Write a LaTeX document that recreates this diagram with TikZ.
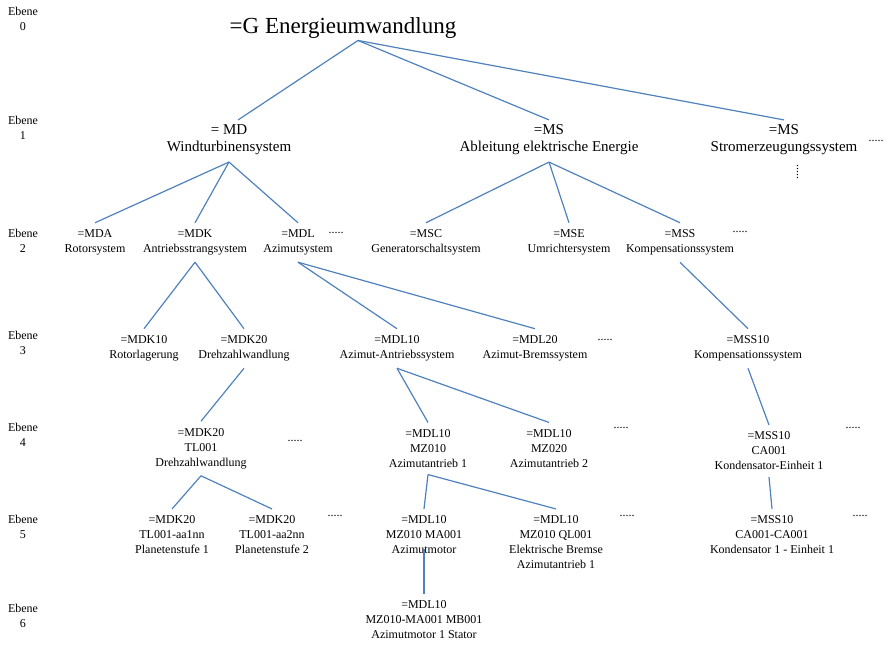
\documentclass[tikz,border=0pt]{standalone}
\usepackage{fontspec}
\setmainfont{Liberation Serif}
\usepackage{xcolor}
\definecolor{LinkBlue}{HTML}{4F81BD}

\begin{document}
\begin{tikzpicture}[x=1pt, y=-1pt,
      every node/.style={font=\fontsize{12}{15}\selectfont, align=center, inner sep=2pt, outer ysep=5pt},
      top/.style={font=\fontsize{23}{27}\selectfont, outer ysep=0pt},
      sys/.style={font=\fontsize{15}{17}\selectfont},
      more/.style={anchor=base, inner sep=0pt, outer sep=0pt},
      link/.style={draw=LinkBlue, line width=1.2pt}
    ]
    \useasboundingbox (0,0) rectangle (890,645);

    % level labels on the left
    \foreach \n/\y in {0/19, 1/127.5, 2/241, 3/343, 4/435, 5/527, 6/616}
      \node (ebene\n) at (23,\y) {Ebene\\\n};

    % Ebene 0 and 1
    \node[top] (g) at (343,28) {=G Energieumwandlung};
    \node[sys] (md) at (229,140) {= MD\\Windturbinensystem};
    \node[sys] (msa) at (549,140) {=MS\\Ableitung elektrische Energie};
    \node[sys] (msb) at (784,140) {=MS\\Stromerzeugungssystem};

    % Ebene 2
    \node (mda) at (95,242.5) {=MDA\\Rotorsystem};
    \node (mdk) at (195,242.5) {=MDK\\Antriebsstrangsystem};
    \node (mdl) at (298,242.5) {=MDL\\Azimutsystem};
    \node (msc) at (426,242.5) {=MSC\\Generatorschaltsystem};
    \node (mse) at (569,242.5) {=MSE\\Umrichtersystem};
    \node (mss) at (680,242.5) {=MSS\\Kompensationssystem};

    % Ebene 3
    \node (mdk10) at (144,348.5) {=MDK10\\Rotorlagerung};
    \node (mdk20) at (244,348.5) {=MDK20\\Drehzahlwandlung};
    \node (mdl10) at (397,348.5) {=MDL10\\Azimut-Antriebssystem};
    \node (mdl20) at (535,348.5) {=MDL20\\Azimut-Bremssystem};
    \node (mss10) at (748,348.5) {=MSS10\\Kompensationssystem};

    % Ebene 4
    \node (tl001) at (201,448.5) {=MDK20\\TL001\\Drehzahlwandlung};
    \node (mz010) at (428,448.5) {=MDL10\\MZ010\\Azimutantrieb 1};
    \node (mz020) at (549,448.5) {=MDL10\\MZ020\\Azimutantrieb 2};
    \node (ca001) at (769,451) {=MSS10\\CA001\\Kondensator-Einheit 1};

    % Ebene 5
    \node (aa1) at (172,535) {=MDK20\\TL001-aa1nn\\Planetenstufe 1};
    \node (aa2) at (272,535) {=MDK20\\TL001-aa2nn\\Planetenstufe 2};
    \node (ma001) at (424,535) {=MDL10\\MZ010 MA001\\Azimutmotor};
    \node (ql001) at (556,542.5) {=MDL10\\MZ010 QL001\\Elektrische Bremse\\Azimutantrieb 1};
    \node (ca001b) at (772,535) {=MSS10\\CA001-CA001\\Kondensator 1 - Einheit 1};

    % Ebene 6
    \node (mb001) at (424,620) {=MDL10\\MZ010-MA001 MB001\\Azimutmotor 1 Stator};

    % further entries
    \node[more] (more1) at (876,141) {.....};
    \node[more, rotate=90] (more1v) at (798,171.5) {.....};
    \node[more] (more2a) at (336,233) {.....};
    \node[more] (more2b) at (740,232) {.....};
    \node[more] (more3) at (605,340) {.....};
    \node[more] (more4a) at (295,441) {.....};
    \node[more] (more4b) at (621,428) {.....};
    \node[more] (more4c) at (853,428) {.....};
    \node[more] (more5a) at (335,516) {.....};
    \node[more] (more5b) at (627,516) {.....};
    \node[more] (more5c) at (860,516) {.....};

    \draw[link] ([xshift=15pt]g.south) -- ([xshift=9pt,yshift=-2pt]md.north);
    \draw[link] ([xshift=15pt]g.south) -- ([yshift=-2pt]msa.north);
    \draw[link] ([xshift=15pt]g.south) -- ([yshift=-2pt]msb.north);

    \draw[link] (md.south) -- (mda.north);
    \draw[link] (md.south) -- (mdk.north);
    \draw[link] (md.south) -- (mdl.north);
    \draw[link] (msa.south) -- (msc.north);
    \draw[link] (msa.south) -- (mse.north);
    \draw[link] (msa.south) -- (mss.north);

    \draw[link] (mdk.south) -- (mdk10.north);
    \draw[link] (mdk.south) -- (mdk20.north);
    \draw[link] (mdl.south) -- (mdl10.north);
    \draw[link] (mdl.south) -- (mdl20.north);
    \draw[link] (mss.south) -- (mss10.north);

    \draw[link] (mdk20.south) -- (tl001.north);
    \draw[link] (mdl10.south) -- (mz010.north);
    \draw[link] (mdl10.south) -- (mz020.north);
    \draw[link] (mss10.south) -- (ca001.north);

    \draw[link] (tl001.south) -- (aa1.north);
    \draw[link] (tl001.south) -- (aa2.north);
    \draw[link] (mz010.south) -- (ma001.north);
    \draw[link] (mz010.south) -- (ql001.north);
    \draw[link] (ca001.south) -- (ca001b.north);

    \draw[link, shorten <=-12pt] (ma001.south) -- (mb001.north);
  \end{tikzpicture}
\end{document}
